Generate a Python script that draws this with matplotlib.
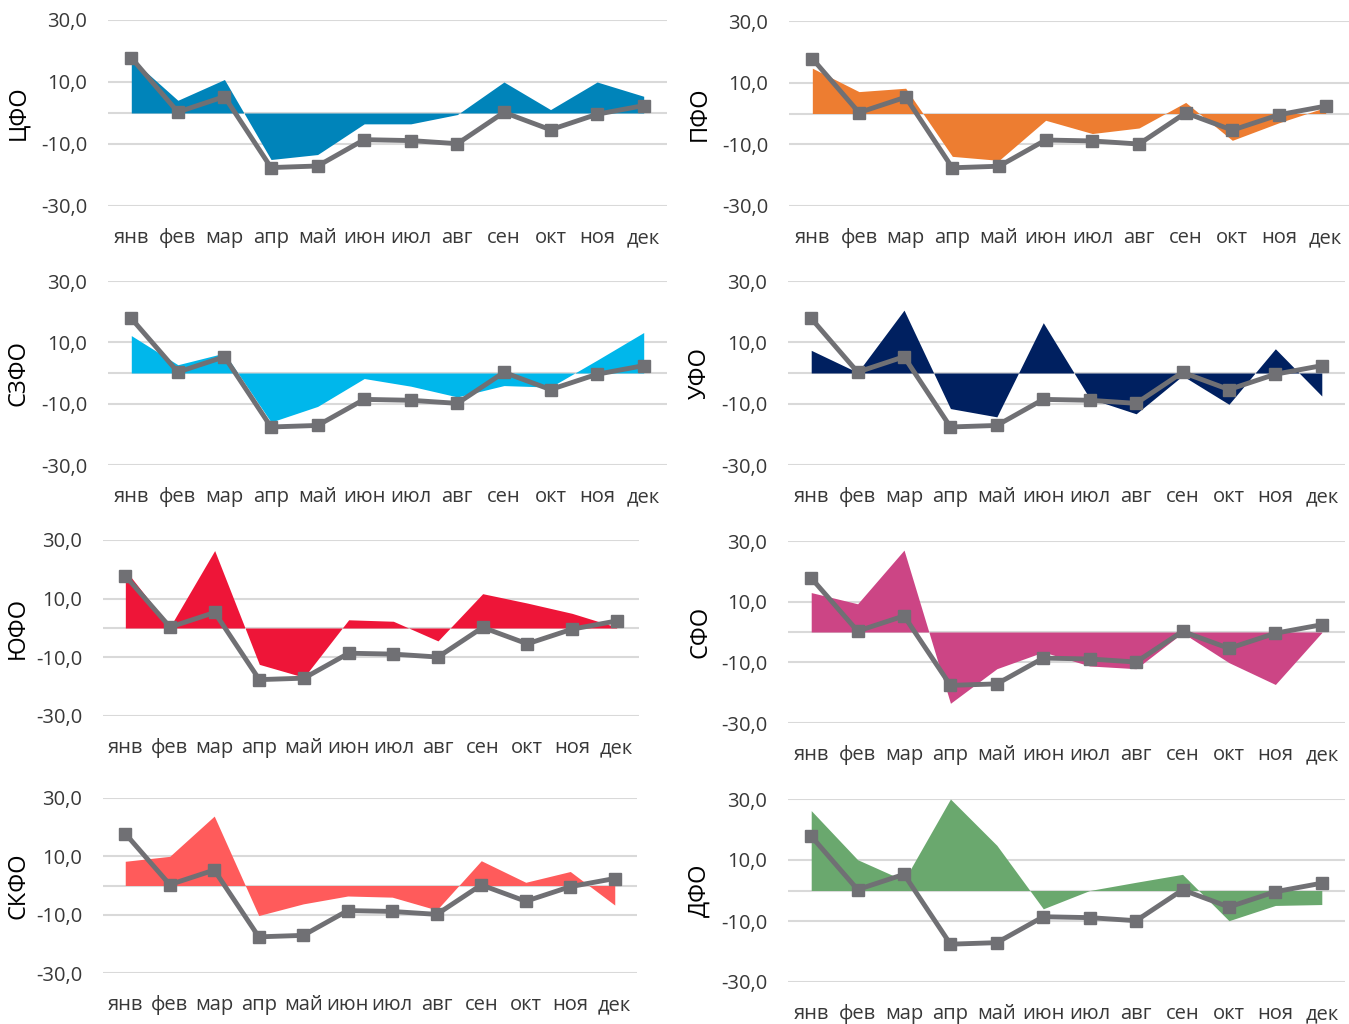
import numpy as np
import matplotlib
matplotlib.use('Agg')
import matplotlib.pyplot as plt

plt.rcParams['font.family'] = ['Open Sans', 'DejaVu Sans']

# Месяцы
months = ['янв', 'фев', 'мар', 'апр', 'май', 'июн', 'июл', 'авг', 'сен', 'окт', 'ноя', 'дек']

# Общая линия (серая) - одна и та же на всех графиках
russia = [17.8, 0.3, 5.3, -17.6, -17.1, -8.6, -8.9, -9.9, 0.2, -5.4, -0.4, 2.4]

# Значения по округам (заливка)
cfo = [17.5, 4.1, 10.8, -15.0, -13.4, -3.5, -3.5, -0.5, 10.0, 1.1, 10.0, 5.4]
pfo = [14.7, 7.1, 8.2, -13.9, -15.2, -2.2, -6.5, -4.7, 3.6, -8.7, -3.0, 2.0]
szfo = [12.2, 2.7, 6.5, -16.0, -10.9, -1.8, -4.3, -7.8, -4.1, -4.6, 4.2, 13.2]
ufo = [7.4, 0.2, 20.5, -11.6, -14.3, 16.4, -8.3, -13.3, -0.9, -10.2, 7.9, -7.5]
yufo = [19.8, 0.4, 26.4, -12.4, -16.8, 2.8, 2.3, -4.4, 11.7, 8.5, 5.0, 0.3]
sfo = [13.0, 9.3, 27.0, -23.5, -12.1, -6.6, -11.2, -12.1, -0.3, -10.1, -17.3, -0.2]
skfo = [8.3, 10.0, 23.8, -10.3, -6.3, -3.6, -4.0, -8.4, 8.5, 1.1, 4.8, -6.7]
dfo = [26.2, 10.1, 3.3, 30.0, 14.8, -6.0, 0.0, 2.7, 5.3, -9.9, -4.9, -4.6]

names = ['ЦФО', 'ПФО', 'СЗФО', 'УФО', 'ЮФО', 'СФО', 'СКФО', 'ДФО']
series = [cfo, pfo, szfo, ufo, yufo, sfo, skfo, dfo]
colors = ['#0084BA', '#ED7D31', '#00B7EB', '#002060', '#EE1538', '#CC4585', '#FF5B5B', '#6AA86E']

# положение графиков в пикселях: левый край, правый край, верх (30), низ (-30)
boxes = [
    (108, 667, 20, 206), (789, 1349, 21, 206),
    (108, 667, 281, 465), (788, 1345, 281, 465),
    (103, 639, 540, 716), (788, 1345, 541, 723),
    (103, 637, 798, 973), (788, 1345, 799, 982),
]
label_x = [18, 700, 18, 700, 18, 700, 18, 700]

W, H = 1349, 1024
fig = plt.figure(figsize=(W / 100, H / 100), dpi=100)

x = np.arange(len(months))
for name, vals, col, (l, r, t, b), lx in zip(names, series, colors, boxes, label_x):
    ax = fig.add_axes([l / W, 1 - b / H, (r - l) / W, (b - t) / H])
    ax.set_xlim(-0.5, 11.5)
    ax.set_ylim(-30, 30)
    ax.set_yticks([-30, -10, 10, 30])
    ax.set_yticklabels(['-30,0', '-10,0', '10,0', '30,0'])
    ax.set_xticks(x)
    ax.set_xticklabels(months)
    ax.grid(axis='y', color='#D9D9D9', linewidth=1.5)
    ax.axhline(0, color='#D9D9D9', linewidth=1.5, zorder=0.5)
    ax.set_axisbelow(True)
    for s in ax.spines.values():
        s.set_visible(False)
    ax.tick_params(length=0, labelsize=14.5, labelcolor='#383838')
    ax.tick_params(axis='y', pad=15)
    ax.tick_params(axis='x', pad=16)

    ax.fill_between(x, 0, vals, color=col, linewidth=0, zorder=2)
    ax.plot(x, russia, color='#707074', linewidth=3.5, marker='s', markersize=9,
            zorder=3, clip_on=False)

    fig.text(lx / W, 1 - (t + b) / 2 / H, name, rotation=90, fontsize=17,
             color='black', ha='center', va='center')

plt.savefig('out.png', dpi=100)
